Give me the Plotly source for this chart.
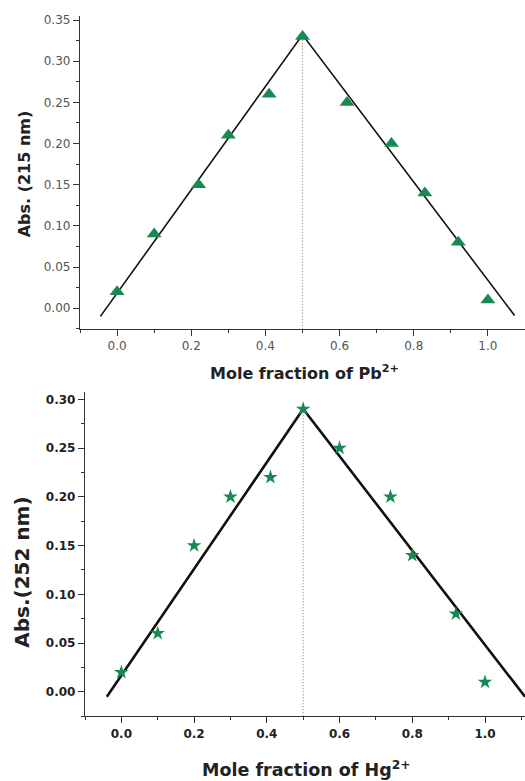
import plotly.graph_objects as go

# Job's plot data: mole fraction vs absorbance
pb_fraction = [0.0, 0.10, 0.22, 0.30, 0.41, 0.50, 0.62, 0.74, 0.83, 0.92, 1.0]
pb_abs_215 = [0.02, 0.09, 0.15, 0.21, 0.26, 0.33, 0.25, 0.20, 0.14, 0.08, 0.01]

hg_fraction = [0.0, 0.10, 0.20, 0.30, 0.41, 0.50, 0.60, 0.74, 0.80, 0.92, 1.0]
hg_abs_252 = [0.02, 0.06, 0.15, 0.20, 0.22, 0.29, 0.25, 0.20, 0.14, 0.08, 0.01]

# Linear fits on each side of the stoichiometric point
pb_fit_x = [-0.045, 0.50, 1.072]
pb_fit_y = [-0.010, 0.332, -0.009]
hg_fit_x = [-0.040, 0.50, 1.11]
hg_fit_y = [-0.005, 0.290, -0.005]

x_ticks = [0.0, 0.2, 0.4, 0.6, 0.8, 1.0]
x_tick_text = ["0.0", "0.2", "0.4", "0.6", "0.8", "1.0"]
pb_y_ticks = [0.00, 0.05, 0.10, 0.15, 0.20, 0.25, 0.30, 0.35]
hg_y_ticks = [0.00, 0.05, 0.10, 0.15, 0.20, 0.25, 0.30]

W, H = 525, 781
GREEN = "#168a52"
FONT = "DejaVu Sans, Verdana, sans-serif"

pb_yrange = [-0.025, 0.355]
hg_yrange = [-0.025, 0.308]

fig = go.Figure()

# ---- top panel (Pb2+) ----
fig.add_trace(go.Scatter(x=[0.5, 0.5], y=[pb_yrange[0], pb_abs_215[5]], mode="lines",
                         line=dict(color="#888", width=1.2, dash="1px,2px"),
                         xaxis="x", yaxis="y", showlegend=False))
fig.add_trace(go.Scatter(x=pb_fit_x, y=pb_fit_y, mode="lines",
                         line=dict(color="#111", width=1.6),
                         xaxis="x", yaxis="y", showlegend=False))
fig.add_trace(go.Scatter(x=pb_fraction, y=pb_abs_215, mode="markers",
                         marker=dict(symbol="triangle-up", size=13, color=GREEN),
                         xaxis="x", yaxis="y", showlegend=False))

# ---- bottom panel (Hg2+) ----
fig.add_trace(go.Scatter(x=[0.5, 0.5], y=[hg_yrange[0], hg_abs_252[5]], mode="lines",
                         line=dict(color="#888", width=1.2, dash="1px,2px"),
                         xaxis="x2", yaxis="y2", showlegend=False))
fig.add_trace(go.Scatter(x=hg_fit_x, y=hg_fit_y, mode="lines",
                         line=dict(color="#111", width=2.6),
                         xaxis="x2", yaxis="y2", showlegend=False))
fig.add_trace(go.Scatter(x=hg_fraction, y=hg_abs_252, mode="markers",
                         marker=dict(symbol="star", size=11, color=GREEN),
                         xaxis="x2", yaxis="y2", showlegend=False))

def axis_style(tick_font, **kw):
    d = dict(showline=True, linecolor="#333", linewidth=1.3, ticks="outside",
             ticklen=6, tickwidth=1.2, tickcolor="#333", showgrid=False,
             zeroline=False, tickfont=tick_font, mirror=False,
             minor=dict(ticks="outside", ticklen=3, tickwidth=1, tickcolor="#333"))
    d.update(kw)
    return d

top_font = dict(family=FONT, size=12, color="#555")
bot_font = dict(family=FONT, size=12, color="#222", weight="bold")

fig.update_layout(
    width=W, height=H,
    margin=dict(l=0, r=0, t=0, b=0),
    paper_bgcolor="white", plot_bgcolor="white",
    xaxis=axis_style(top_font, domain=[80 / W, 1.0], range=[-0.1, 1.1],
                     tickvals=x_ticks, ticktext=x_tick_text, anchor="y",
                     minor_dtick=0.1),
    yaxis=axis_style(top_font, domain=[1 - 327 / H, 1 - 13 / H], range=pb_yrange,
                     tickvals=pb_y_ticks, tickformat=".2f", anchor="x",
                     minor_dtick=0.025),
    xaxis2=axis_style(bot_font, domain=[85 / W, 1.0], range=[-0.1, 1.11],
                      tickvals=x_ticks, ticktext=x_tick_text, anchor="y2",
                      minor_dtick=0.1),
    yaxis2=axis_style(bot_font, domain=[1 - 716 / H, 1 - 390 / H], range=hg_yrange,
                      tickvals=hg_y_ticks, tickformat=".2f", anchor="x2",
                      minor_dtick=0.025),
)

annotations = [
    dict(text="<b>Mole fraction of Pb<sup>2+</sup></b>", x=304 / W, y=1 - 371 / H,
         font=dict(family=FONT, size=16, color="#222")),
    dict(text="<b>Abs. (215 nm)</b>", x=24 / W, y=1 - 172 / H, textangle=-90,
         font=dict(family=FONT, size=16, color="#222")),
    dict(text="<b>Mole fraction of Hg<sup>2+</sup></b>", x=306 / W, y=1 - 769 / H,
         font=dict(family=FONT, size=17.5, color="#222")),
    dict(text="<b>Abs.(252 nm)</b>", x=22 / W, y=1 - 572 / H, textangle=-90,
         font=dict(family=FONT, size=20, color="#222")),
]
for a in annotations:
    a.update(xref="paper", yref="paper", showarrow=False, xanchor="center", yanchor="middle")
fig.update_layout(annotations=annotations)

fig.write_html("out.html")
